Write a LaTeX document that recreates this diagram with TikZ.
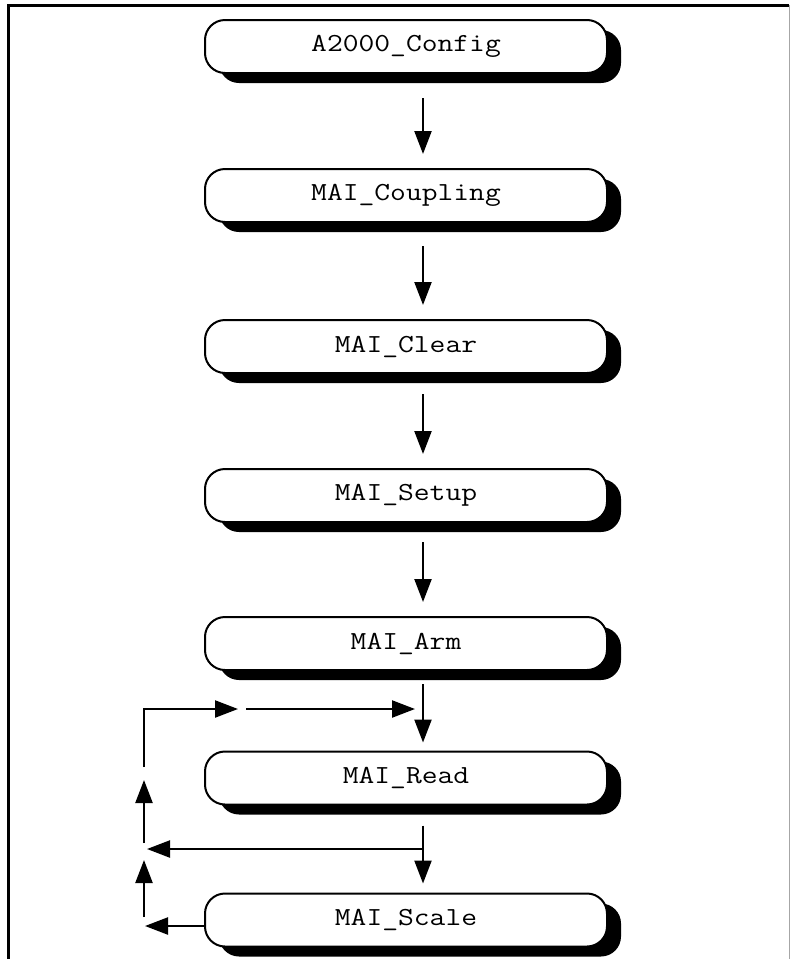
\documentclass[tikz,border=0pt]{standalone}
\usepackage{fontspec}
\newfontfamily\boxfont{Latin Modern Mono}[FakeStretch=1.18]
\usetikzlibrary{arrows.meta,shadows}
\begin{document}
\begin{tikzpicture}[x=1pt,y=-1pt,
  fnbox/.style={draw=black, line width=2pt, fill=white, rounded corners=20pt,
    minimum width=402pt, minimum height=53pt, inner sep=0pt,
    font=\fontsize{26}{30}\selectfont\boxfont,
    drop shadow={shadow xshift=14pt, shadow yshift=-10pt, fill=black, opacity=1}},
  flow/.style={line width=2.3pt, -{Triangle[length=23pt,width=17pt]}},
  plain/.style={line width=2.3pt}
]
\useasboundingbox (0,0) rectangle (790,959);
% outer frame (open at the bottom)
\draw[line width=3pt] (8,959) -- (8,5) -- (789,5);
\draw[line width=1pt, black!35] (789,5) -- (789,959);

% function boxes
\node[fnbox] (cfg)  at (406,46.5)  {A2000\_Config};
\node[fnbox] (cpl)  at (406,195.5) {MAI\_Coupling};
\node[fnbox] (clr)  at (406,346.5) {MAI\_Clear};
\node[fnbox] (set)  at (406,495.5) {MAI\_Setup};
\node[fnbox] (arm)  at (406,643.5) {MAI\_Arm};
\node[fnbox] (rd)   at (406,778)   {MAI\_Read};
\node[fnbox] (scl)  at (406,920)   {MAI\_Scale};

% main sequence (canvas y points up: negative yshift moves down)
\draw[flow] ([xshift=17pt,yshift=-24pt]cfg.south) -- ([xshift=17pt,yshift=14pt]cpl.north);
\draw[flow] ([xshift=17pt,yshift=-23pt]cpl.south) -- ([xshift=17pt,yshift=14pt]clr.north);
\draw[flow] ([xshift=17pt,yshift=-20pt]clr.south) -- ([xshift=17pt,yshift=14pt]set.north);
\draw[flow] ([xshift=17pt,yshift=-19pt]set.south) -- ([xshift=17pt,yshift=14pt]arm.north);
\draw[flow] ([xshift=17pt,yshift=-13pt]arm.south) -- ([xshift=17pt,yshift=8pt]rd.north);
\draw[flow] ([xshift=17pt,yshift=-20pt]rd.south) -- ([xshift=17pt,yshift=9pt]scl.north);

% loop-back path
\coordinate (tee)   at (423,849);
\coordinate (jnL)   at (147,849);
\coordinate (sclL)  at (145,926);
\coordinate (upA0)  at (144,917);
\coordinate (upA1)  at (144,860);
\coordinate (upB0)  at (144,843);
\coordinate (upB1)  at (144,780);
\coordinate (upC0)  at (144,767);
\coordinate (top)   at (144,709);
\coordinate (midL)  at (238,709);
\coordinate (midR)  at (246,709);
\coordinate (colL)  at (415,709);

\draw[flow] (tee) -- (jnL);
\draw[flow] ([yshift=-6pt]scl.west) -- (sclL);
\draw[flow] (upA0) -- (upA1);
\draw[flow] (upB0) -- (upB1);
\draw[flow] (upC0) -- (top) -- (midL);
\draw[flow] (midR) -- (colL);
\end{tikzpicture}
\end{document}
